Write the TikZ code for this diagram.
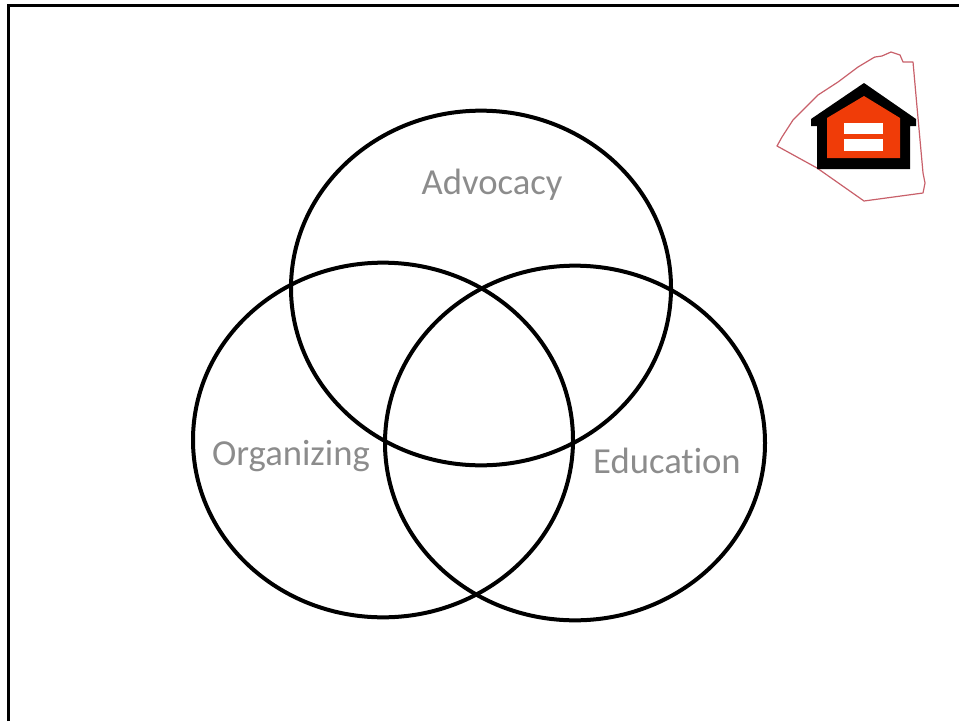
\documentclass[tikz,border=0pt]{standalone}
\usepackage{fontspec}
\usetikzlibrary{shapes.geometric}
\setmainfont[Ligatures=NoCommon]{Carlito}
\definecolor{labelgray}{HTML}{8C8C8C}
\definecolor{logored}{HTML}{F03C08}
\definecolor{logoline}{HTML}{C8606A}
\tikzset{
  ring/.style={ellipse,draw=black,line width=3pt,fill=none,inner sep=0pt,minimum width=285pt,minimum height=266pt},
  lab/.style={text=labelgray,font=\fontsize{27.5pt}{30pt}\selectfont,inner sep=0pt,anchor=base},
  x=0.75pt,y=-0.75pt
}
\begin{document}
\begin{tikzpicture}
\useasboundingbox (0,0) rectangle (959,721);
\draw[black,line width=1.9pt] (8.7,721) -- (8.7,5.5) -- (959,5.5);
\node[ring] (adv) at (481,288) {};
\node[ring] (org) at (383,440) {};
\node[ring] (edu) at (575,443) {};
\node[lab] (tadv) at (492,194) {Advocacy};
\node[lab] (torg) at (291,465) {Organizing};
\node[lab] (tedu) at (667,473.5) {Education};
% logo
\draw[logoline,line width=0.9pt,line join=round] (777,146) -- (782,137) -- (793,120) -- (818,95) -- (838,82) -- (858,67) -- (873,58) -- (875,57) -- (882,56) -- (891,52) -- (900,55) -- (903,62) -- (913,62) -- (917,107) -- (923,173) -- (925,183) -- (923,193) -- (864,201) -- (817,168) -- cycle;
\fill[black] (864,83) -- (916,119) -- (916,126) -- (910,126) -- (910,169) -- (817,169) -- (817,126) -- (811,126) -- (811,119) -- cycle;
\fill[logored] (864,96) -- (900,118) -- (900,158) -- (827,158) -- (827,118) -- cycle;
\fill[white] (844,123) rectangle (883,134);
\fill[white] (844,139) rectangle (883,151);
\end{tikzpicture}
\end{document}
